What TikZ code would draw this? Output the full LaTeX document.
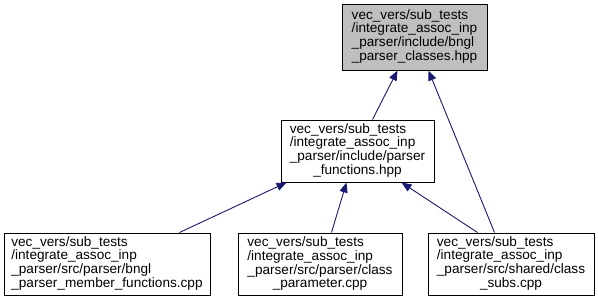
\documentclass[tikz,border=0pt]{standalone}
\usepackage{fontspec}
\setmainfont{Liberation Sans}
\usetikzlibrary{arrows.meta}
\definecolor{edgeblue}{HTML}{191970}
\definecolor{focusgray}{HTML}{BFBFBF}
\newcommand{\filelabel}[4]{%
  \begin{tabular}{@{}l@{}}#1\\#2\\#3\\\multicolumn{1}{@{}c@{}}{#4}\end{tabular}}
\tikzset{
  filebox/.style={draw=black, line width=1pt, fill=white, inner sep=0pt,
    font=\fontsize{13.6}{13.5}\selectfont, anchor=center},
  focusbox/.style={filebox, fill=focusgray},
  dep/.style={draw=edgeblue, line width=0.9pt,
    -{Triangle[length=10pt,width=8pt]}, edgeblue}
}
\begin{document}
\begin{tikzpicture}[x=1pt,y=-1pt]
  \useasboundingbox (0,0) rectangle (598,303);

  % header being documented
  \node[focusbox, minimum width=145pt, minimum height=66pt] (top) at (414.5,37)
    {\filelabel{vec\_vers/sub\_tests}{/integrate\_assoc\_inp}{\_parser/include/bngl}{\_parser\_classes.hpp}};

  % intermediate header
  \node[filebox, minimum width=153pt, minimum height=62pt] (mid) at (357.5,151)
    {\filelabel{vec\_vers/sub\_tests}{/integrate\_assoc\_inp}{\_parser/include/parser}{\_functions.hpp}};

  % source files
  \node[filebox, minimum width=206pt, minimum height=62pt] (bl) at (107,264)
    {\filelabel{vec\_vers/sub\_tests}{/integrate\_assoc\_inp}{\_parser/src/parser/bngl}{\_parser\_member\_functions.cpp}};
  \node[filebox, minimum width=164pt, minimum height=62pt] (bm) at (320,264)
    {\filelabel{vec\_vers/sub\_tests}{/integrate\_assoc\_inp}{\_parser/src/parser/class}{\_parameter.cpp}};
  \node[filebox, minimum width=166pt, minimum height=62pt] (br) at (511,264)
    {\filelabel{vec\_vers/sub\_tests}{/integrate\_assoc\_inp}{\_parser/src/shared/class}{\_subs.cpp}};

  % include edges
  \draw[dep] ([xshift=92pt]mid.north west) -- ([xshift=56pt]top.south west);
  \draw[dep] ([xshift=67pt]br.north west) -- ([xshift=87pt]top.south west);
  \draw[dep] ([xshift=176pt]bl.north west) -- ([xshift=6pt]mid.south west);
  \draw[dep] ([xshift=94pt]bm.north west) -- ([xshift=66pt]mid.south west);
  \draw[dep] ([xshift=50pt]br.north west) -- ([xshift=121pt]mid.south west);
\end{tikzpicture}
\end{document}
